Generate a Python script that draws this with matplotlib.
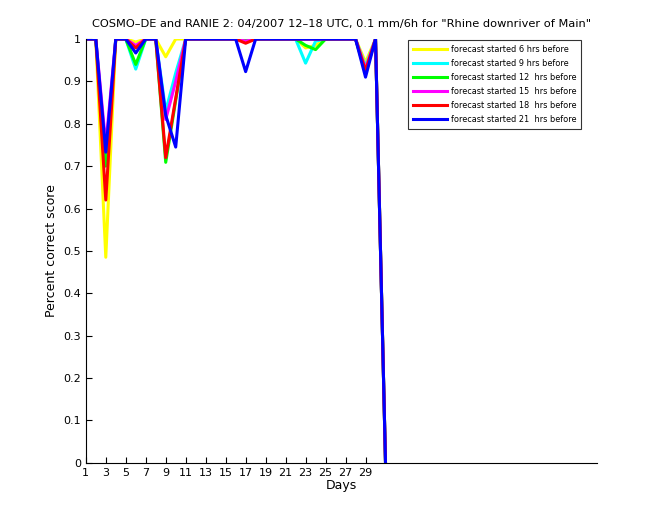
import numpy as np
import matplotlib.pyplot as plt

days = np.arange(1, 32)

# percent correct score per day, one list per forecast lead time
fc06 = [1, 1, 0.485, 1, 1, 0.993, 1, 1, 0.958, 1, 1, 1, 1, 1, 1, 1, 1, 1, 1, 1,
        1, 1, 0.979, 0.985, 1, 1, 1, 1, 0.945, 1, 0]
fc09 = [1, 1, 0.705, 1, 1, 0.929, 1, 1, 0.83, 0.92, 1, 1, 1, 1, 1, 1, 1, 1, 1, 1,
        1, 1, 0.943, 0.995, 1, 1, 1, 1, 0.935, 1, 0]
fc12 = [1, 1, 0.70, 1, 1, 0.94, 1, 1, 0.709, 0.855, 1, 1, 1, 1, 1, 1, 1, 1, 1, 1,
        1, 1, 0.985, 0.975, 1, 1, 1, 1, 0.92, 1, 0]
fc15 = [1, 1, 0.75, 1, 1, 0.985, 1, 1, 0.81, 0.9, 1, 1, 1, 1, 1, 1, 0.995, 1, 1, 1,
        1, 1, 1, 1, 1, 1, 1, 1, 0.93, 1, 0]
fc18 = [1, 1, 0.62, 1, 1, 0.979, 1, 1, 0.72, 0.86, 1, 1, 1, 1, 1, 1, 0.99, 1, 1, 1,
        1, 1, 1, 1, 1, 1, 1, 1, 0.925, 1, 0]
fc21 = [1, 1, 0.733, 1, 1, 0.967, 1, 1, 0.82, 0.745, 1, 1, 1, 1, 1, 1, 0.923, 1, 1, 1,
        1, 1, 1, 1, 1, 1, 1, 1, 0.91, 1, 0]

series = [fc06, fc09, fc12, fc15, fc18, fc21]
colors = ['yellow', 'cyan', '#00ff00', 'magenta', 'red', 'blue']
labels = ['forecast started 6 hrs before', 'forecast started 9 hrs before',
          'forecast started 12  hrs before', 'forecast started 15  hrs before',
          'forecast started 18  hrs before', 'forecast started 21  hrs before']

fig = plt.figure(figsize=(6.6, 5.2), dpi=100)
ax = fig.add_axes([0.13, 0.11, 0.775, 0.815])

for vals, c, lab in zip(series, colors, labels):
    ax.plot(days, vals, color=c, lw=2.2, label=lab)

ax.set_xlim(1, 52.2)
ax.set_ylim(0, 1)
ax.set_xticks(np.arange(1, 30, 2))
ax.set_yticks(np.arange(0, 1.01, 0.1))
ax.set_yticklabels(['0', '0.1', '0.2', '0.3', '0.4', '0.5', '0.6', '0.7', '0.8', '0.9', '1'])
ax.tick_params(direction='in', labelsize=8, length=4)
ax.spines['top'].set_visible(False)
ax.spines['right'].set_visible(False)

ax.set_xlabel('Days', fontsize=9, labelpad=1)
ax.set_ylabel('Percent correct score', fontsize=9)
ax.set_title('COSMO\u2013DE and RANIE 2: 04/2007 12\u201318 UTC, 0.1 mm/6h for "Rhine downriver of Main"',
             fontsize=8.2, pad=9)

leg = ax.legend(loc='upper right', bbox_to_anchor=(0.976, 1.008), fontsize=5.9,
                frameon=True, fancybox=False, edgecolor='black',
                handlelength=4.2, handletextpad=0.4, borderpad=0.6, labelspacing=0.62)
leg.get_frame().set_linewidth(0.8)

fig.savefig('out.png')
